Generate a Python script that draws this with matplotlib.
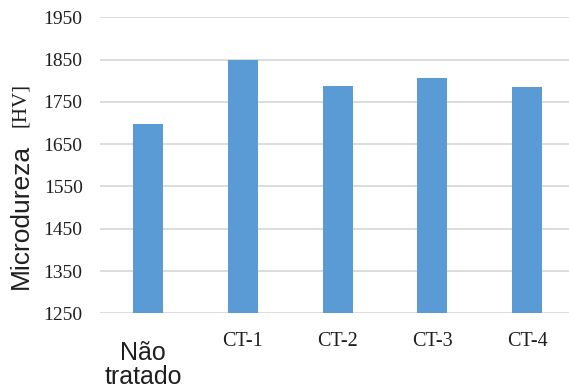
import matplotlib
matplotlib.use("Agg")
import matplotlib.pyplot as plt

# Microhardness per treatment condition
categories = ["Não\ntratado", "CT-1", "CT-2", "CT-3", "CT-4"]
hardness = [1697, 1848, 1788, 1806, 1785]
yticks = [1250, 1350, 1450, 1550, 1650, 1750, 1850, 1950]

fig = plt.figure(figsize=(5.69, 3.89), dpi=100)
ax = fig.add_axes([100 / 569, 1 - 313.3 / 389, 1 - 100 / 569, (313.3 - 17.3) / 389])

x = list(range(len(categories)))
ax.bar(x, [h - 1250 for h in hardness], bottom=1250, width=0.316,
       color="#5B9BD5", zorder=3)

ax.set_ylim(1250, 1950)
ax.set_xlim(-0.505, 4.44)
ax.set_yticks(yticks)
ax.set_yticklabels([str(t) for t in yticks], family="Liberation Serif",
                   fontsize=14, color="#1f1f1f")
ax.yaxis.grid(True, color="#d9d9d9", linewidth=1.3, zorder=0)
ax.tick_params(axis="both", length=0)
ax.tick_params(axis="y", pad=12.5)
for s in ax.spines.values():
    s.set_visible(False)

ax.set_xticks(x)
ax.set_xticklabels([])
# category labels: first one sans-serif, others serif
for i, lab in enumerate(categories):
    if i == 0:
        fig.text(143 / 569, 1 - 365 / 389, lab, ha="center", va="center",
                 family="Liberation Sans", fontsize=18, color="#1f1f1f",
                 linespacing=1.0)
    else:
        ax.annotate(lab, xy=(i, 1250), xycoords="data", xytext=(0, -20),
                    textcoords="offset points", ha="center", va="center",
                    family="Liberation Serif", fontsize=14.5, color="#1f1f1f")

fig.text(21 / 569, 1 - 216 / 389, "Microdureza", rotation=90, ha="center",
         va="center", family="Liberation Sans", fontsize=19, color="#1f1f1f")
fig.text(20 / 569, 1 - 105 / 389, "[HV]", rotation=90, ha="center",
         va="center", family="Liberation Serif", fontsize=15, color="#1f1f1f")

fig.savefig("out.png", dpi=100)
